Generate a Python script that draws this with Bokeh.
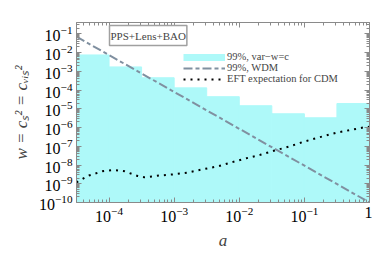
from bokeh.plotting import figure
from bokeh.models import (FixedTicker, LogTickFormatter, LogAxis, Legend, LegendItem,
                          Label, ColumnDataSource, CustomJSTickFormatter)
from bokeh.embed import file_html
from bokeh.resources import INLINE

# ---------------- data ----------------
# bin edges of the var-w=c 99% upper limit (scale factor a)
bin_edges = [3.16e-5, 1.0e-4, 3.16e-4, 1.0e-3, 3.16e-3, 1.0e-2, 3.16e-2, 1.0e-1, 3.16e-1, 1.0]
bin_limits = [7.4e-3, 1.7e-3, 4.5e-4, 1.3e-4, 4.4e-5, 1.45e-5, 5.4e-6, 3.3e-6, 1.9e-5]

# 99% WDM limit (straight line in log-log)
wdm_a = [3.16e-5, 1.0]
wdm_w = [7.0e-2, 1.0e-10]

# EFT expectation for CDM
eft_a = [3.16e-5, 4.9e-5, 7.9e-5, 1.17e-4, 1.74e-4, 2.75e-4, 3.5e-4, 6.0e-4, 1.0e-3,
         1.66e-3, 2.75e-3, 4.7e-3, 7.6e-3, 1.29e-2, 2.1e-2, 3.5e-2, 5.9e-2, 9.8e-2,
         0.166, 0.30, 0.51, 0.83, 1.0]
eft_w = [1.2e-9, 2.75e-9, 4.6e-9, 5.5e-9, 4.6e-9, 2.6e-9, 2.2e-9, 2.75e-9, 3.2e-9,
         4.0e-9, 5.9e-9, 8.5e-9, 1.38e-8, 2.3e-8, 3.5e-8, 5.9e-8, 9.8e-8, 1.74e-7,
         2.95e-7, 5.1e-7, 7.4e-7, 1.02e-6, 1.1e-6]

x_major = [1e-4, 1e-3, 1e-2, 1e-1, 1.0]
y_major = [1e-10, 1e-9, 1e-8, 1e-7, 1e-6, 1e-5, 1e-4, 1e-3, 1e-2, 1e-1]

legend_labels = ["99%, var\u2212w=c", "99%, WDM", "EFT expectation for CDM"]
box_text = "PPS+Lens+BAO"
x_title = "a"
y_title = "w = c\u209b\u00b2 = c\u1d65\u1d62\u209b\u00b2"

# ---------------- styling ----------------
FONT = "Liberation Serif"
CYAN = "#aef9f9"
WDM_COL = "#8090a0"
AXCOL = "#8a8a8a"

x_minor = [k * 10.0 ** e for e in range(-5, 0) for k in range(2, 10) if 10 ** -4.5 < k * 10.0 ** e < 1]
y_minor = [k * 10.0 ** e for e in range(-10, 0) for k in range(2, 10) if k * 10.0 ** e < 0.4]

p = figure(width=372, height=254, x_axis_type="log", y_axis_type="log",
           x_range=(10 ** -4.5, 1.0), y_range=(1e-10, 10 ** -0.4),
           output_backend="svg", toolbar_location=None,
           min_border_left=76, min_border_right=3, min_border_top=22, min_border_bottom=52)
p.grid.visible = False
p.outline_line_color = AXCOL
p.background_fill_color = "white"

src = ColumnDataSource(dict(left=bin_edges[:-1], right=bin_edges[1:], top=bin_limits,
                            bottom=[1e-11] * len(bin_limits)))
p.quad(left="left", right="right", top="top", bottom="bottom", source=src,
       fill_color=CYAN, line_color=CYAN, line_width=1)
wdm = p.line(wdm_a, wdm_w, line_color=WDM_COL, line_width=2, line_dash="9 3 4 3")
eft = p.line(eft_a, eft_w, line_color="black", line_width=2, line_dash="2 5")

# legend swatch for the filled region (thick line drawn only in the legend)
sw = p.line([1e-20, 1e-20], [1e-20, 1e-20], line_color=CYAN, line_width=7)

legend = Legend(items=[LegendItem(label=legend_labels[0], renderers=[sw]),
                       LegendItem(label=legend_labels[1], renderers=[wdm]),
                       LegendItem(label=legend_labels[2], renderers=[eft])],
                location=(107, 118), padding=0, margin=0, spacing=0,
                glyph_width=42, glyph_height=10, label_height=10, label_standoff=2,
                background_fill_alpha=0, border_line_color=None,
                label_text_font=FONT, label_text_font_size="10.5px")
p.add_layout(legend, "center")


def style_axis(ax, ticks, minor, labels=True):
    ax.ticker = FixedTicker(ticks=ticks, minor_ticks=minor)
    ax.axis_line_color = AXCOL
    ax.major_tick_line_color = AXCOL
    ax.minor_tick_line_color = AXCOL
    ax.major_tick_in = 5
    ax.major_tick_out = 0
    ax.minor_tick_in = 3
    ax.minor_tick_out = 0
    if labels:
        ax.formatter = LogTickFormatter()
        ax.major_label_text_font = FONT
        ax.major_label_text_font_size = "16px"
        ax.major_label_text_color = "black"
        ax.major_label_standoff = 4
        ax.axis_label_text_font = FONT
        ax.axis_label_text_font_style = "italic"
        ax.axis_label_text_font_size = "17px"
    else:
        ax.formatter = CustomJSTickFormatter(code="return ''")
        ax.major_label_text_font_size = "1px"
        ax.major_label_text_alpha = 0
        ax.major_label_standoff = 0


style_axis(p.xaxis[0], x_major, x_minor)
p.xaxis[0].major_label_overrides = {1: "1"}
p.xaxis[0].axis_label = x_title
p.xaxis[0].axis_label_standoff = 6
style_axis(p.yaxis[0], y_major, y_minor)
p.yaxis[0].axis_label = y_title
p.yaxis[0].axis_label_standoff = 5

top_ax = LogAxis()
style_axis(top_ax, x_major, x_minor, labels=False)
p.add_layout(top_ax, "above")
right_ax = LogAxis()
style_axis(right_ax, y_major, y_minor, labels=False)
p.add_layout(right_ax, "right")

# boxed data-set label
p.add_layout(Label(x=33, y=167, x_units="screen", y_units="screen", text=box_text,
                   text_font=FONT, text_font_size="11px", text_baseline="middle",
                   padding=(1, 4), border_line_color="#a0a0a0", border_line_width=1.5,
                   background_fill_color="white"))

open("out.html", "w").write(file_html(p, INLINE))
